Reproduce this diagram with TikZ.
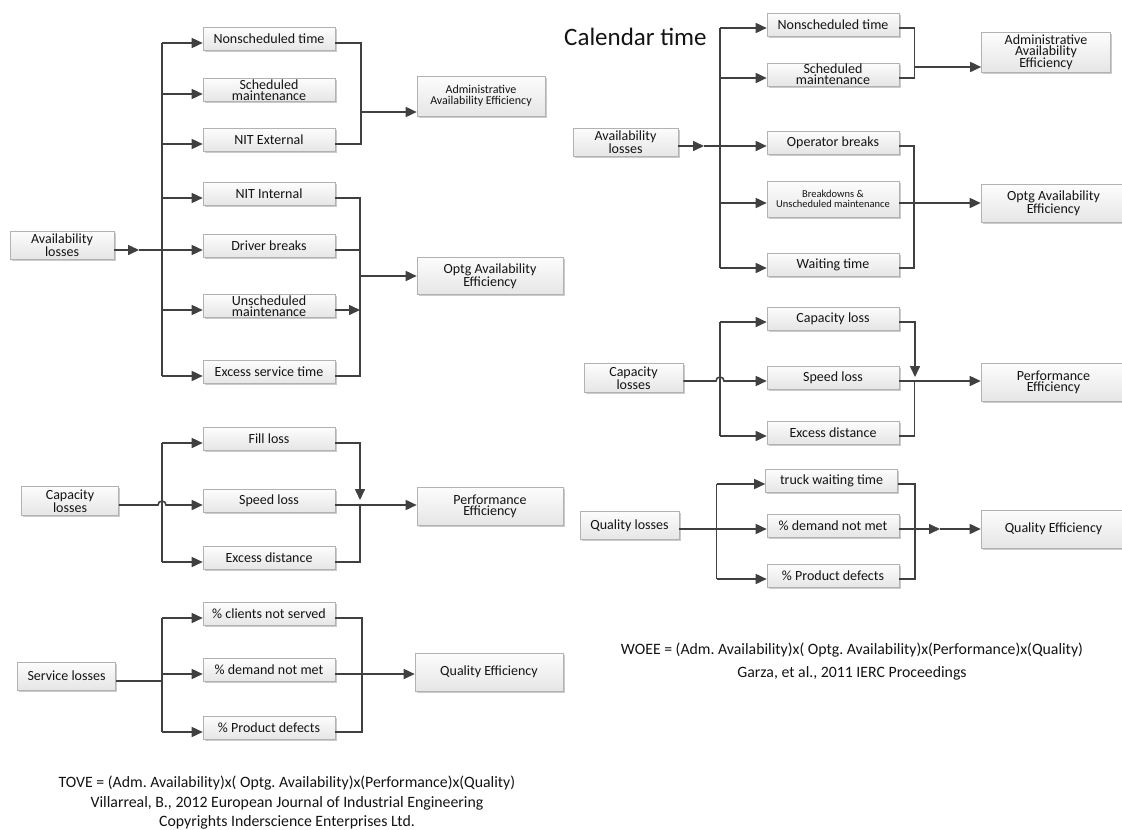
\documentclass[tikz,border=0pt]{standalone}
\usepackage{fontspec}
\setmainfont{Carlito}
\usetikzlibrary{arrows.meta,shadows}
\newcommand{\fsz}[2]{\fontsize{#1}{#2}\selectfont}
\frenchspacing
\begin{document}
\begin{tikzpicture}[x=1pt,y=-1pt,
  box/.style={draw=black!30, line width=0.6pt, top color=black!1, bottom color=black!10,
     drop shadow={shadow xshift=1.8pt, shadow yshift=-1.8pt, fill=black!45, opacity=0.45},
     inner sep=0pt, align=center, text=black!92, font=\fsz{14}{11}},
  sb/.style={box, minimum width=132pt, minimum height=23pt},
  tb/.style={box, minimum height=38pt},
  ln/.style={draw=black!75, line width=1.6pt},
  arr/.style={ln, -{Triangle[length=11pt,width=10pt]}},
  txt/.style={align=center, text=black!92, inner sep=0pt},
]
\path[use as bounding box, fill=white] (0,0) rectangle (1122,830);

% ================= LEFT PANEL =================
% --- availability
\node[box, minimum width=104pt, minimum height=28pt] (al1) at (62,245) {Availability\\losses};
\node[sb] (ns1) at (269,39) {Nonscheduled time};
\node[sb] (sm1) at (269,90) {Scheduled\\maintenance};
\node[sb] (ne1) at (269,140) {NIT External};
\node[sb] (ni1) at (269,194) {NIT Internal};
\node[sb] (db1) at (269,246) {Driver breaks};
\node[sb] (um1) at (269,306) {Unscheduled\\maintenance};
\node[sb] (es1) at (269,372) {Excess service time};
\node[box, minimum width=128pt, minimum height=40pt, font=\fsz{12}{11}] (ad1) at (481,96) {Administrative\\Availability Efficiency};
\node[box, minimum width=146pt, minimum height=37pt] (op1) at (490,276) {Optg Availability\\Efficiency};

\coordinate (m1) at (139,250);
\coordinate (ja1) at (162,250);
\draw[arr] (al1.east |- m1) -- (m1);
\draw[ln] (m1) -- (ja1);
\coordinate (jt1) at (162,43);
\coordinate (jb1) at (162,376);
\draw[ln] (jt1) -- (jb1);
\foreach \n/\y in {ns1/43, sm1/94, ne1/144, ni1/198, db1/250, um1/310, es1/376}{
  \coordinate (j\n) at (162,\y);
  \draw[arr] (j\n) -- (j\n -| \n.west);
}
\coordinate (ra1) at (361,43);
\coordinate (ra2) at (361,144);
\coordinate (ra3) at (361,112);
\draw[ln] (ns1.east |- ra1) -- (ra1) -- (ra2) -- (ne1.east |- ra2);
\draw[arr] (ra3) -- (ra3 -| ad1.west);
\coordinate (ro1) at (360,198);
\coordinate (ro2) at (360,250);
\coordinate (ro3) at (360,310);
\coordinate (ro4) at (360,376);
\coordinate (ro5) at (360,276);
\draw[ln] (ni1.east |- ro1) -- (ro1) -- (ro4) -- (es1.east |- ro4);
\draw[ln] (db1.east |- ro2) -- (ro2);
\draw[arr] (um1.east |- ro3) -- (ro3);
\draw[arr] (ro5) -- (ro5 -| op1.west);

% --- capacity
\node[box, minimum width=97pt, minimum height=29pt] (cl1) at (70,501) {Capacity\\losses};
\node[sb] (fl1) at (269,439) {Fill loss};
\node[sb] (sp1) at (269,501) {Speed loss};
\node[sb] (ed1) at (269,558) {Excess distance};
\node[box, minimum width=146pt, minimum height=38pt] (pe1) at (490,506) {Performance\\Efficiency};

\coordinate (c1t) at (162,443);
\coordinate (c1b) at (162,562);
\coordinate (c1h) at (158,505);
\draw[ln] (c1t) -- (c1b);
\draw[arr] (cl1.east |- c1h) -- (c1h) arc[start angle=180, end angle=0, radius=4pt] -- (c1h -| sp1.west);
\draw[arr] (c1t) -- (c1t -| fl1.west);
\draw[arr] (c1b) -- (c1b -| ed1.west);
\coordinate (c1r1) at (360,443);
\coordinate (c1r2) at (360,500);
\coordinate (c1r3) at (360,505);
\coordinate (c1r4) at (360,562);
\coordinate (c1k) at (390,505);
\draw[arr] (fl1.east |- c1r1) -- (c1r1) -- (c1r2);
\draw[arr] (sp1.east |- c1r3) -- (c1r3 -| pe1.west);
\draw[ln] (ed1.east |- c1r4) -- (c1r4) -- (c1r3);
\draw[ln, line width=2.6pt] (c1r3) -- (c1k);

% --- service
\node[box, minimum width=98pt, minimum height=28pt] (sv1) at (66.5,676) {Service losses};
\node[sb] (cn1) at (269,614) {\% clients not served};
\node[sb] (dn1) at (269,670) {\% demand not met};
\node[sb] (pd1) at (269,728) {\% Product defects};
\node[box, minimum width=148pt, minimum height=38pt] (qe1) at (489,672) {Quality Efficiency};

\coordinate (s1in) at (162,681);
\coordinate (s1t) at (162,618);
\coordinate (s1m) at (162,674);
\coordinate (s1b) at (162,732);
\draw[ln] (sv1.east |- s1in) -- (s1in);
\draw[ln] (s1t) -- (s1b);
\draw[arr] (s1t) -- (s1t -| cn1.west);
\draw[arr] (s1m) -- (s1m -| dn1.west);
\draw[arr] (s1b) -- (s1b -| pd1.west);
\coordinate (s1r1) at (362,618);
\coordinate (s1r2) at (362,674);
\coordinate (s1r3) at (362,732);
\coordinate (s1k) at (390,674);
\draw[ln] (cn1.east |- s1r1) -- (s1r1) -- (s1r3) -- (pd1.east |- s1r3);
\draw[arr] (dn1.east |- s1r2) -- (s1r2 -| qe1.west);
\draw[ln, line width=2.6pt] (s1r2) -- (s1k);

\node[txt, font=\fsz{15.8}{19.5}] (cap1) at (287,803) {TOVE = (Adm. Availability)x( Optg. Availability)x(Performance)x(Quality)\\Villarreal, B., 2012 European Journal of Industrial Engineering\\Copyrights Inderscience Enterprises Ltd.};

% ================= RIGHT PANEL =================
\node[anchor=west, inner sep=0pt, text=black!92, font=\fsz{25}{28}] (cal) at (564,37) {Calendar time};

% --- availability
\node[box, minimum width=105pt, minimum height=28pt] (al2) at (625.5,142) {Availability\\losses};
\node[sb] (ns2) at (833,24.5) {Nonscheduled time};
\node[sb] (sm2) at (833,74.5) {Scheduled\\maintenance};
\node[sb] (ob2) at (833,142.5) {Operator breaks};
\node[sb, minimum height=36pt, font=\fsz{10.5}{10}] (bd2) at (833,199) {Breakdowns \&\\Unscheduled maintenance};
\node[sb] (wt2) at (833,264.5) {Waiting time};
\node[box, minimum width=129pt, minimum height=40pt, font=\fsz{14}{10.5}] (ad2) at (1046,52.5) {Administrative\\Availability\\Efficiency};
\node[tb, minimum width=145pt] (op2) at (1053.5,203.5) {Optg Availability\\Efficiency};

\coordinate (m2) at (704,146);
\coordinate (ja2) at (720,146);
\draw[arr] (al2.east |- m2) -- (m2);
\draw[ln] (m2) -- (ja2);
\coordinate (jt2) at (720,28);
\coordinate (jb2) at (720,268);
\draw[ln] (jt2) -- (jb2);
\foreach \n/\y in {ns2/28, sm2/78, ob2/146, bd2/203, wt2/268}{
  \coordinate (j\n) at (720,\y);
  \draw[arr] (j\n) -- (j\n -| \n.west);
}
\coordinate (rb1) at (914.5,28);
\coordinate (rb2) at (914.5,78);
\coordinate (rb3) at (914.5,67);
\draw[ln] (ns2.east |- rb1) -- (rb1) -- (rb2) -- (sm2.east |- rb2);
\draw[arr] (rb3) -- (rb3 -| ad2.west);
\coordinate (rc1) at (914,146);
\coordinate (rc2) at (914,268);
\coordinate (rc3) at (914,203);
\draw[ln] (ob2.east |- rc1) -- (rc1) -- (rc2) -- (wt2.east |- rc2);
\draw[arr] (bd2.east |- rc3) -- (rc3 -| op2.west);

% --- capacity
\node[box, minimum width=99pt, minimum height=29pt] (cl2) at (633.5,378) {Capacity\\losses};
\node[sb] (cp2) at (833,318.5) {Capacity loss};
\node[sb] (sl2) at (833,377.5) {Speed loss};
\node[sb] (ed2) at (833,432.5) {Excess distance};
\node[tb, minimum width=145pt] (pf2) at (1053.5,382.5) {Performance\\Efficiency};

\coordinate (c2t) at (720,322);
\coordinate (c2b) at (720,436);
\coordinate (c2h) at (716,381);
\draw[ln] (c2t) -- (c2b);
\draw[arr] (cl2.east |- c2h) -- (c2h) arc[start angle=180, end angle=0, radius=4pt] -- (c2h -| sl2.west);
\draw[arr] (c2t) -- (c2t -| cp2.west);
\draw[arr] (c2b) -- (c2b -| ed2.west);
\coordinate (c2r1) at (915,322);
\coordinate (c2r2) at (915,377);
\coordinate (c2r3) at (914.5,381);
\coordinate (c2r4) at (914.5,436);
\draw[arr] (cp2.east |- c2r1) -- (c2r1) -- (c2r2);
\draw[arr] (sl2.east |- c2r3) -- (c2r3 -| pf2.west);
\draw[ln] (ed2.east |- c2r4) -- (c2r4) -- (c2r3);

% --- quality
\node[box, minimum width=99pt, minimum height=28pt] (ql2) at (629.5,525.5) {Quality losses};
\node[sb] (tw2) at (831.5,481) {truck waiting time};
\node[sb] (dm2) at (833,525.5) {\% demand not met};
\node[sb] (pd2) at (833,576) {\% Product defects};
\node[tb, minimum width=145pt] (qe2) at (1053.5,529) {Quality Efficiency};

\coordinate (q2m) at (716.5,529);
\coordinate (q2t) at (716.5,484);
\coordinate (q2b) at (716.5,579);
\draw[ln] (ql2.east |- q2m) -- (q2m);
\draw[ln] (q2t) -- (q2b);
\draw[arr] (q2t) -- (q2t -| tw2.west);
\draw[arr] (q2m) -- (q2m -| dm2.west);
\draw[arr] (q2b) -- (q2b -| pd2.west);
\coordinate (q2r1) at (915,484);
\coordinate (q2r2) at (915,579);
\coordinate (q2mid) at (940,529);
\draw[ln] (tw2.east |- q2r1) -- (q2r1) -- (q2r2) -- (pd2.east |- q2r2);
\draw[arr] (dm2.east |- q2mid) -- (q2mid);
\draw[arr] (q2mid) -- (q2mid -| qe2.west);

\node[txt, font=\fsz{15.8}{23}] (cap2) at (852,662) {WOEE = (Adm. Availability)x( Optg. Availability)x(Performance)x(Quality)\\Garza, et al., 2011 IERC Proceedings};
\end{tikzpicture}
\end{document}
